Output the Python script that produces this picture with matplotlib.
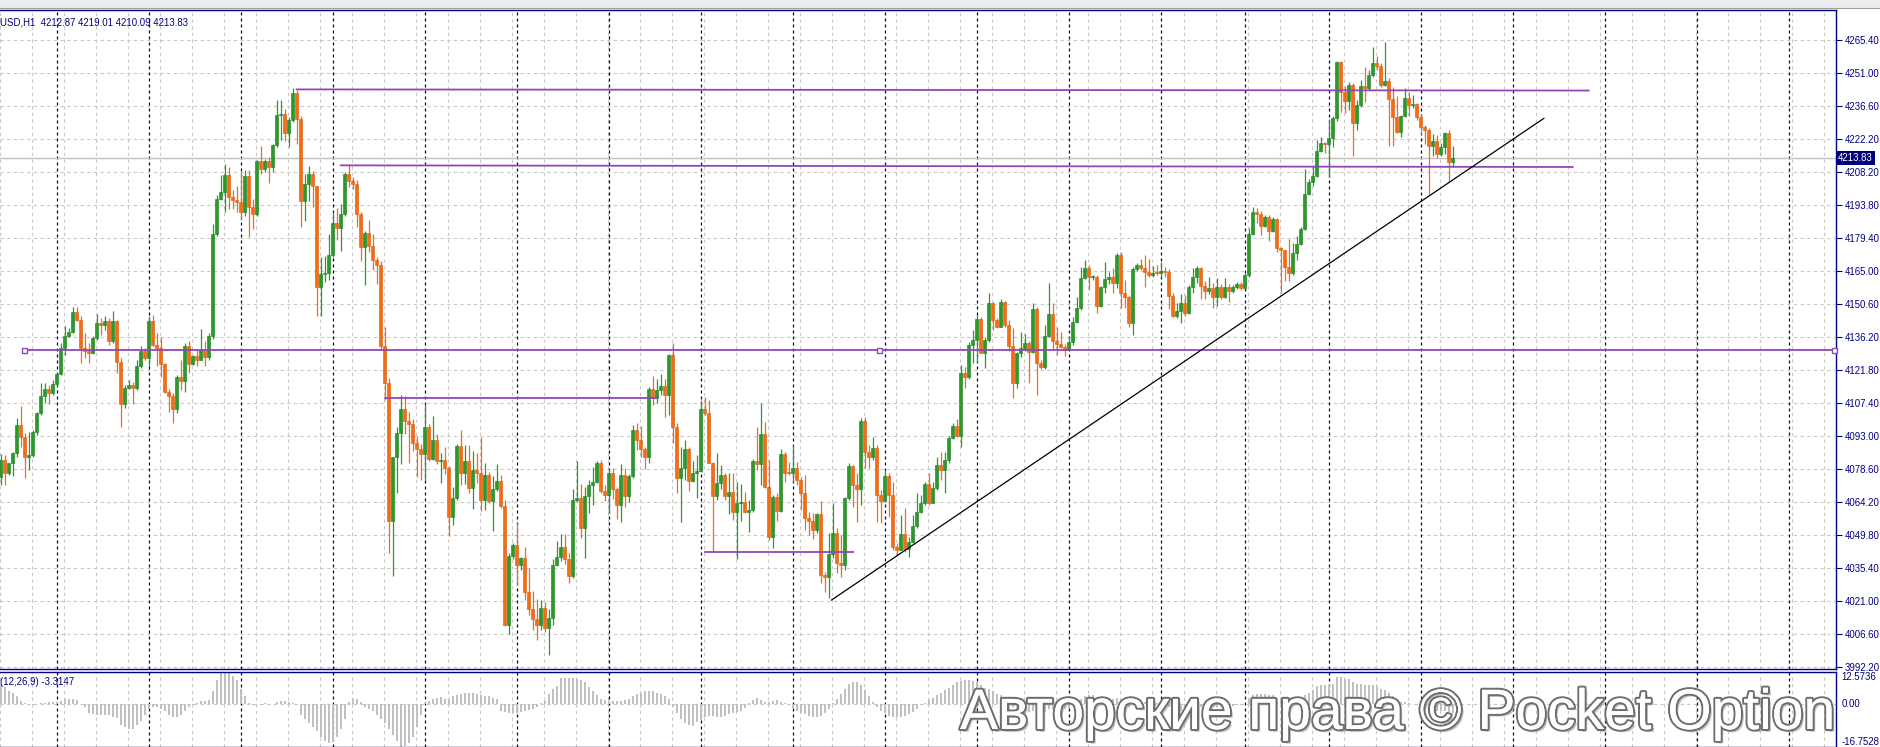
import numpy as np
import matplotlib
matplotlib.use("Agg")
import matplotlib.pyplot as plt
import matplotlib.patheffects as pe
from matplotlib.transforms import blended_transform_factory

# H1 candles, one per bar (open of each bar = close of the previous bar)
first_open = 4075.0
closes = [
    4082.2, 4076.4, 4080.8, 4085.1, 4097.5, 4092.1, 4083.4, 4084.4, 4094.6, 4102.6,
    4109.9, 4113.2, 4111.3, 4115.4, 4119.8, 4131.0, 4136.3, 4137.9, 4146.7, 4143.3,
    4131.0, 4129.5, 4128.8, 4135.3, 4141.9, 4141.1, 4143.0, 4133.9, 4143.0, 4125.1,
    4106.7, 4113.5, 4114.7, 4113.5, 4123.2, 4129.5, 4126.6, 4143.0, 4132.4, 4131.2,
    4124.1, 4111.7, 4110.2, 4104.3, 4118.6, 4116.8, 4131.7, 4124.1, 4127.6, 4125.9,
    4130.2, 4127.0, 4136.3, 4180.7, 4196.0, 4198.9, 4206.6, 4196.7, 4195.3, 4194.6,
    4190.2, 4205.8, 4192.4, 4189.2, 4212.7, 4209.1, 4212.7, 4209.8, 4219.3, 4232.4,
    4233.1, 4224.7, 4230.5, 4242.3, 4230.9, 4195.2, 4202.6, 4206.7, 4201.5, 4157.5,
    4163.2, 4163.7, 4171.4, 4185.4, 4183.4, 4189.5, 4206.7, 4203.8, 4202.6, 4189.5,
    4175.2, 4181.3, 4175.5, 4169.3, 4167.3, 4132.0, 4115.6, 4055.7, 4083.5, 4094.1,
    4104.6, 4099.2, 4098.0, 4089.8, 4086.9, 4084.9, 4096.4, 4082.7, 4090.9, 4081.6,
    4082.3, 4078.6, 4057.6, 4065.8, 4088.2, 4076.7, 4081.6, 4070.1, 4077.9, 4076.7,
    4064.7, 4075.7, 4064.2, 4069.6, 4072.9, 4062.2, 4010.5, 4040.5, 4045.0, 4036.3,
    4039.6, 4024.5, 4017.1, 4013.0, 4010.5, 4017.9, 4008.9, 4013.3, 4036.3, 4040.1,
    4044.1, 4039.2, 4031.8, 4064.7, 4065.5, 4052.4, 4066.6, 4071.3, 4072.8, 4080.8,
    4068.9, 4066.9, 4076.4, 4069.4, 4062.6, 4075.7, 4066.5, 4075.2, 4095.3, 4090.9,
    4086.9, 4083.4, 4113.0, 4109.1, 4112.7, 4114.5, 4110.5, 4128.0, 4096.4, 4074.2,
    4078.6, 4086.9, 4073.2, 4076.4, 4077.6, 4104.3, 4102.8, 4081.0, 4066.5, 4072.0,
    4075.7, 4066.5, 4068.4, 4059.7, 4063.3, 4064.1, 4059.7, 4060.4, 4081.9, 4080.5,
    4093.5, 4070.6, 4048.8, 4066.2, 4060.1, 4084.8, 4076.7, 4076.4, 4078.6, 4073.5,
    4068.0, 4056.8, 4055.8, 4051.7, 4058.7, 4032.1, 4031.4, 4041.3, 4050.3, 4037.2,
    4036.5, 4065.5, 4079.6, 4071.3, 4069.4, 4099.4, 4085.8, 4083.7, 4087.3, 4067.0,
    4064.5, 4075.2, 4067.0, 4044.5, 4043.0, 4050.0, 4043.3, 4046.6, 4053.5, 4059.7,
    4063.6, 4071.8, 4063.6, 4069.9, 4080.0, 4077.9, 4082.2, 4091.7, 4097.0, 4092.7,
    4120.3, 4118.2, 4132.3, 4134.5, 4143.5, 4129.0, 4134.5, 4150.8, 4143.2, 4140.3,
    4151.2, 4141.0, 4131.9, 4115.6, 4128.7, 4130.9, 4133.1, 4129.4, 4147.9, 4124.6,
    4122.6, 4136.2, 4145.8, 4134.2, 4132.8, 4131.6, 4130.1, 4133.5, 4142.5, 4148.3,
    4161.4, 4165.7, 4161.8, 4162.1, 4149.3, 4157.5, 4160.9, 4162.1, 4159.5, 4171.6,
    4154.8, 4153.1, 4142.1, 4165.3, 4167.2, 4165.7, 4164.3, 4162.8, 4163.8, 4163.5,
    4164.7, 4164.1, 4153.7, 4144.9, 4147.3, 4150.8, 4146.4, 4157.4, 4161.8, 4165.7,
    4158.0, 4156.0, 4157.0, 4153.4, 4157.4, 4153.1, 4157.7, 4156.0, 4157.7, 4158.9,
    4157.0, 4162.8, 4180.7, 4190.4, 4189.4, 4184.2, 4188.2, 4182.1, 4187.1, 4174.5,
    4173.7, 4166.2, 4163.6, 4172.3, 4176.3, 4182.7, 4198.1, 4203.5, 4206.1, 4217.0,
    4220.2, 4219.9, 4222.4, 4231.1, 4255.8, 4242.7, 4238.8, 4245.6, 4228.9, 4236.9,
    4245.2, 4244.2, 4250.0, 4255.3, 4253.9, 4245.6, 4247.5, 4239.4, 4231.8, 4225.3,
    4232.1, 4239.8, 4236.9, 4237.3, 4231.5, 4227.2, 4226.0, 4219.0, 4221.4, 4215.5,
    4218.7, 4224.8, 4212.2, 4213.83,
]
highs = [
    4084.8, 4084.4, 4081.0, 4085.9, 4100.4, 4105.8, 4093.8, 4094.6, 4095.3, 4103.3,
    4115.7, 4115.7, 4115.0, 4117.2, 4120.0, 4133.2, 4140.4, 4139.7, 4149.1, 4148.9,
    4144.8, 4137.5, 4133.1, 4136.1, 4145.9, 4144.1, 4144.8, 4144.1, 4147.0, 4143.3,
    4126.6, 4115.0, 4117.1, 4116.4, 4125.9, 4131.7, 4131.0, 4144.8, 4145.5, 4137.5,
    4135.8, 4124.4, 4113.1, 4111.3, 4119.3, 4125.6, 4133.4, 4133.9, 4128.0, 4130.7,
    4139.4, 4133.9, 4137.5, 4185.1, 4197.5, 4206.2, 4211.3, 4209.8, 4199.7, 4201.8,
    4207.7, 4208.4, 4208.4, 4196.0, 4213.0, 4218.9, 4213.5, 4214.2, 4220.0, 4238.9,
    4238.9, 4235.3, 4231.7, 4244.5, 4243.6, 4232.2, 4206.7, 4210.3, 4208.0, 4201.8,
    4170.6, 4171.0, 4180.8, 4190.3, 4192.0, 4193.6, 4207.5, 4211.3, 4205.4, 4204.3,
    4190.3, 4182.1, 4186.7, 4180.8, 4170.6, 4168.9, 4140.2, 4118.0, 4083.6, 4096.6,
    4110.7, 4109.9, 4103.3, 4100.0, 4092.6, 4089.3, 4106.5, 4098.0, 4101.6, 4093.4,
    4085.2, 4087.7, 4079.5, 4070.4, 4089.3, 4095.4, 4088.8, 4088.8, 4086.0, 4085.2,
    4092.1, 4081.1, 4077.0, 4075.4, 4080.3, 4075.7, 4064.7, 4041.7, 4046.1, 4054.8,
    4040.1, 4044.5, 4035.1, 4025.3, 4021.5, 4021.2, 4020.2, 4017.1, 4039.2, 4047.1,
    4049.9, 4049.9, 4041.7, 4069.6, 4081.6, 4071.7, 4070.4, 4073.5, 4079.3, 4081.9,
    4082.2, 4071.3, 4078.1, 4078.6, 4070.6, 4080.5, 4078.6, 4076.1, 4097.5, 4098.5,
    4097.0, 4088.0, 4113.9, 4118.8, 4117.3, 4119.7, 4117.3, 4128.4, 4133.0, 4098.5,
    4088.0, 4090.9, 4088.0, 4081.9, 4084.4, 4108.4, 4109.8, 4108.4, 4081.5, 4085.4,
    4080.0, 4076.7, 4076.4, 4076.7, 4072.8, 4071.8, 4068.4, 4064.8, 4082.5, 4096.4,
    4107.2, 4098.9, 4082.2, 4067.0, 4067.7, 4086.9, 4085.8, 4081.5, 4088.7, 4081.5,
    4074.9, 4075.7, 4059.7, 4059.0, 4059.0, 4064.5, 4033.6, 4050.3, 4063.3, 4052.4,
    4049.5, 4066.2, 4081.0, 4080.0, 4076.4, 4100.4, 4101.1, 4088.7, 4092.1, 4088.7,
    4069.1, 4077.9, 4076.4, 4072.8, 4045.9, 4058.2, 4061.2, 4048.8, 4058.2, 4068.0,
    4066.9, 4072.8, 4076.7, 4072.8, 4083.7, 4085.9, 4085.9, 4092.7, 4098.5, 4099.9,
    4123.6, 4122.6, 4133.8, 4138.9, 4145.4, 4144.4, 4135.9, 4155.1, 4151.2, 4143.9,
    4152.2, 4151.6, 4143.2, 4139.6, 4129.4, 4138.1, 4137.1, 4134.2, 4150.5, 4149.0,
    4125.8, 4141.0, 4159.5, 4150.5, 4140.3, 4138.1, 4132.8, 4136.2, 4144.7, 4153.4,
    4166.5, 4169.4, 4167.2, 4162.8, 4162.8, 4158.0, 4168.6, 4164.3, 4165.7, 4172.6,
    4173.0, 4160.6, 4154.1, 4166.2, 4168.2, 4169.6, 4171.5, 4169.6, 4166.7, 4167.2,
    4168.6, 4166.5, 4165.3, 4154.8, 4150.8, 4154.5, 4154.1, 4158.5, 4165.7, 4166.7,
    4166.2, 4160.3, 4161.8, 4159.5, 4161.4, 4158.9, 4161.4, 4158.9, 4158.5, 4159.9,
    4159.9, 4163.6, 4183.2, 4192.6, 4191.9, 4190.9, 4189.0, 4189.0, 4187.9, 4187.5,
    4174.9, 4169.4, 4178.4, 4176.6, 4179.8, 4183.9, 4208.9, 4204.5, 4210.3, 4221.7,
    4222.8, 4220.9, 4230.7, 4232.1, 4256.2, 4256.2, 4245.2, 4247.1, 4246.6, 4239.1,
    4247.8, 4253.6, 4252.2, 4262.3, 4258.3, 4255.1, 4264.5, 4248.5, 4244.9, 4240.8,
    4232.5, 4244.2, 4242.7, 4241.2, 4237.6, 4232.5, 4228.2, 4226.7, 4224.3, 4223.8,
    4220.2, 4225.3, 4226.0, 4219.01,
]
lows = [
    4071.3, 4071.3, 4075.7, 4075.4, 4083.7, 4088.0, 4074.2, 4077.8, 4083.7, 4093.1,
    4101.9, 4107.2, 4106.5, 4110.6, 4114.5, 4119.3, 4128.0, 4136.0, 4137.5, 4142.6,
    4124.4, 4126.6, 4124.4, 4128.5, 4134.6, 4136.8, 4139.0, 4132.4, 4133.4, 4120.0,
    4096.8, 4104.8, 4113.1, 4106.7, 4112.8, 4122.2, 4125.9, 4123.0, 4131.7, 4123.0,
    4118.6, 4111.3, 4103.3, 4098.5, 4102.6, 4112.8, 4112.0, 4120.0, 4123.7, 4123.0,
    4125.9, 4123.0, 4125.9, 4135.0, 4180.0, 4195.3, 4190.2, 4191.7, 4191.7, 4190.2,
    4186.6, 4188.7, 4179.3, 4182.9, 4188.7, 4206.9, 4207.7, 4202.9, 4207.7, 4218.6,
    4221.5, 4221.2, 4218.6, 4229.5, 4220.0, 4183.7, 4186.2, 4195.2, 4192.3, 4145.1,
    4145.1, 4159.9, 4160.7, 4170.6, 4178.0, 4173.5, 4188.7, 4201.0, 4200.2, 4183.7,
    4169.0, 4158.3, 4173.0, 4164.9, 4159.1, 4130.4, 4108.2, 4041.7, 4031.8, 4068.0,
    4080.3, 4093.4, 4080.7, 4086.0, 4075.0, 4073.4, 4073.7, 4081.9, 4082.3, 4080.3,
    4072.1, 4076.2, 4049.1, 4054.0, 4064.7, 4071.3, 4071.7, 4068.0, 4060.9, 4072.4,
    4060.2, 4060.6, 4063.5, 4051.5, 4068.8, 4061.4, 4010.0, 4006.4, 4039.2, 4027.7,
    4034.3, 4021.2, 4014.6, 4008.0, 4003.9, 4008.0, 4007.2, 3997.4, 4010.5, 4035.9,
    4038.4, 4036.8, 4028.6, 4031.0, 4063.9, 4048.3, 4039.6, 4059.0, 4062.6, 4072.0,
    4067.7, 4064.5, 4059.0, 4065.1, 4056.4, 4055.3, 4061.9, 4064.1, 4074.2, 4086.6,
    4083.4, 4078.2, 4080.8, 4106.2, 4106.9, 4110.5, 4100.8, 4101.8, 4089.8, 4067.7,
    4055.3, 4073.5, 4068.9, 4072.8, 4065.5, 4077.1, 4101.8, 4080.8, 4042.3, 4064.8,
    4069.4, 4064.8, 4058.7, 4056.1, 4038.9, 4055.8, 4059.0, 4051.0, 4059.7, 4077.9,
    4071.3, 4069.9, 4047.4, 4043.7, 4055.8, 4059.7, 4072.8, 4075.7, 4072.8, 4071.3,
    4060.4, 4051.7, 4049.5, 4047.6, 4050.3, 4028.8, 4024.8, 4021.9, 4039.4, 4032.8,
    4031.4, 4034.3, 4064.8, 4061.9, 4055.3, 4062.6, 4078.6, 4078.6, 4082.2, 4055.3,
    4054.6, 4064.1, 4057.5, 4043.0, 4040.8, 4043.0, 4042.3, 4039.8, 4045.9, 4052.4,
    4059.3, 4062.6, 4062.6, 4063.3, 4069.1, 4073.5, 4068.0, 4080.8, 4091.2, 4092.4,
    4088.0, 4113.4, 4117.4, 4124.3, 4124.6, 4128.7, 4122.2, 4133.8, 4138.9, 4139.6,
    4140.0, 4140.3, 4129.9, 4109.1, 4113.4, 4127.2, 4129.9, 4115.9, 4128.7, 4110.5,
    4121.7, 4121.7, 4135.7, 4130.1, 4128.0, 4130.9, 4127.5, 4130.1, 4132.3, 4141.8,
    4147.6, 4160.9, 4156.3, 4160.6, 4146.4, 4149.0, 4154.8, 4158.9, 4155.1, 4157.0,
    4148.3, 4148.3, 4140.3, 4136.7, 4164.7, 4165.0, 4157.7, 4162.1, 4162.1, 4162.8,
    4162.1, 4162.1, 4147.9, 4144.4, 4143.9, 4142.1, 4145.0, 4145.8, 4154.8, 4159.5,
    4152.2, 4152.2, 4154.5, 4148.3, 4149.3, 4152.2, 4152.7, 4151.2, 4154.8, 4156.6,
    4156.3, 4157.5, 4162.1, 4180.2, 4185.6, 4180.2, 4183.6, 4177.8, 4181.7, 4173.0,
    4154.8, 4160.4, 4160.4, 4162.8, 4169.4, 4175.9, 4182.4, 4197.7, 4201.6, 4205.7,
    4216.6, 4216.1, 4205.7, 4218.7, 4230.1, 4234.0, 4233.6, 4234.7, 4214.7, 4226.0,
    4236.2, 4238.4, 4243.4, 4249.2, 4252.2, 4244.9, 4245.2, 4219.0, 4219.0, 4224.6,
    4223.1, 4231.5, 4232.1, 4235.4, 4230.4, 4224.3, 4219.9, 4198.1, 4214.7, 4213.7,
    4214.7, 4215.5, 4203.5, 4210.09,
]
# MACD(12,26,9) histogram, one value per bar
macd = [
    7.7, 6.9, 5.3, 4.5, 3.0, 1.4, 0.3, -0.2, -0.3, 0.0,
    0.3, 0.5, 0.7, 0.9, 1.0, 1.4, 1.9, 2.0, 2.1, 1.5,
    0.2, -1.0, -3.3, -3.8, -4.1, -4.1, -4.1, -4.4, -4.9, -5.4,
    -8.1, -8.9, -9.7, -9.7, -8.1, -6.5, -4.1, -1.8, -1.0, -1.3,
    -1.8, -2.6, -4.1, -4.9, -4.9, -4.1, -2.6, -1.0, -0.2, 0.6,
    1.1, 1.4, 1.7, 5.3, 9.3, 12.0, 12.57, 12.2, 11.0, 9.5,
    6.0, 3.0, 0.5, -0.3, 0.0, -0.2, 0.3, 0.0, 0.2, 0.8,
    1.4, 1.3, 1.0, 0.5, -0.2, -4.1, -5.7, -7.3, -8.9, -10.4,
    -12.8, -14.4, -15.2, -14.9, -12.8, -9.7, -5.7, 0.9, 2.2, 1.9,
    0.9, -1.0, -1.8, -2.6, -4.1, -5.7, -7.3, -9.7, -12.0, -14.4,
    -16.75, -16.2, -15.0, -12.8, -8.9, -4.1, 0.6, 1.4, 2.2, 2.5,
    2.7, 2.2, 1.9, 3.0, 3.5, 4.1, 4.5, 4.5, 4.2, 3.8,
    3.5, 3.0, 3.0, 2.5, 2.2, -2.6, -2.9, -3.3, -3.4, -3.3,
    -2.9, -2.6, -2.2, -1.8, -1.0, 0.5, 1.4, 3.8, 6.1, 7.2,
    10.1, 10.4, 10.1, 10.1, 9.8, 9.3, 8.5, 6.9, 5.3, 3.5,
    2.0, 1.5, 1.4, 1.4, 1.4, 1.4, 1.5, 2.0, 3.0, 3.8,
    4.5, 5.3, 5.3, 5.0, 4.5, 3.8, 3.0, 2.2, -1.0, -3.3,
    -5.7, -7.3, -8.1, -8.5, -7.0, -6.0, -5.0, -4.5, -4.5, -5.0,
    -5.0, -4.5, -4.0, -3.5, -3.0, -2.5, -1.5, 0.5, 1.5, 2.5,
    1.5, 0.8, 1.0, 1.2, 1.5, 1.0, 0.5, -0.5, -1.5, -2.5,
    -3.5, -4.0, -4.5, -5.0, -5.0, -4.5, -3.5, -2.0, 0.5, 2.0,
    4.0, 6.0, 8.0, 8.8, 8.5, 7.5, 5.5, 3.0, 1.0, -1.0,
    -2.5, -3.5, -4.5, -5.0, -5.2, -5.0, -4.5, -3.8, -3.0, -2.0,
    -0.5, 0.5, 1.5, 2.5, 3.5, 4.5, 5.5, 6.5, 7.5, 8.5,
    9.0, 9.5, 9.5, 9.0, 8.5, 7.5, 6.5, 6.0, 5.0, 4.0,
    3.5, 2.5, 1.0, -1.0, -2.0, -2.5, -2.5, -3.0, -2.5, -3.0,
    -3.5, -3.0, -2.0, -2.0, -2.0, -2.0, -2.0, -1.5, -0.5, 0.5,
    2.0, 3.0, 3.5, 3.5, 2.5, 2.5, 2.5, 2.5, 2.0, 2.5,
    1.0, 0.0, -1.0, 0.5, 1.0, 1.0, 1.0, 0.5, 0.5, 0.3,
    0.2, 0.0, -1.0, -2.0, -2.5, -2.5, -2.5, -2.0, -1.5, -1.0,
    -1.0, -1.0, -1.0, -1.0, -1.0, -1.0, -0.8, -0.8, -0.6, -0.5,
    -0.5, 0.0, 2.0, 3.5, 4.0, 4.0, 4.0, 3.5, 3.5, 2.5,
    1.5, 0.5, 0.0, 0.5, 1.0, 1.5, 3.5, 4.5, 5.5, 7.0,
    7.5, 7.5, 7.5, 8.0, 10.5, 10.5, 10.0, 10.0, 8.5, 8.0,
    8.0, 7.5, 7.5, 7.5, 7.0, 6.0, 5.5, 4.5, 3.0, 1.5,
    1.0, 1.0, 0.5, 0.0, -0.5, -1.0, -1.5, -2.0, -2.2, -2.8,
    -2.8, -2.5, -3.2, -3.3147,
]

price_ticks = [3992.20, 4006.60, 4021.00, 4035.40, 4049.80, 4064.20, 4078.60,
               4093.00, 4107.40, 4121.80, 4136.20, 4150.60, 4165.00, 4179.40,
               4193.80, 4208.20, 4222.20, 4236.60, 4251.00, 4265.40]
day_starts = [14, 37, 60, 83, 106, 129, 152, 175, 198, 221, 244, 267, 290,
              311, 332, 355, 378, 401, 424, 447]
last_price = 4213.83
macd_max, macd_min = 12.5736, -16.7528

# drawn objects: (bar, price) end points
level_lines = [
    ((74, 4243.7), (397, 4243.2)),
    ((85, 4210.6), (393, 4209.9)),
    ((96, 4109.4), (164, 4109.4)),
    ((176, 4042.0), (213, 4042.0)),
]
hline_price = 4130.3
hline_marks = [5.9, 219.6, 458.3]
trend = ((207.7, 4021.2), (385.8, 4231.1))

NAVY = "#000080"
GRID = "#c8c8c8"
UP = "#2a9a2a"
DOWN = "#f56c12"
PURPLE = "#9445b4"

W, H = 1881, 747
fig = plt.figure(figsize=(W / 100, H / 100), dpi=100)
fig.patch.set_facecolor("white")

# pixel layout of the MT4 window
x_right = 1836
main_top, main_bot = 10, 669
sub_top = 672
ax = fig.add_axes([0, 1 - main_bot / H, x_right / W, (main_bot - main_top) / H])
ax2 = fig.add_axes([0, 0, x_right / W, (H - sub_top) / H])

# bar i sits at pixel 0.7 + 4 i
xlim = (-0.175, (x_right - 0.7) / 4)
n = len(closes)
idx = np.arange(n)
opens = np.array([first_open] + closes[:-1])
closes_a = np.array(closes)
highs_a = np.array(highs)
lows_a = np.array(lows)

tick_pos = np.linspace(price_ticks[0], price_ticks[-1], len(price_ticks))
ppx = (tick_pos[1] - tick_pos[0]) / 33.0
y_top = tick_pos[-1] + (39.6 - main_top) * ppx
y_bot = tick_pos[0] - (main_bot - 666.6) * ppx

for a in (ax, ax2):
    a.set_xlim(*xlim)
    a.set_xticks([])
    a.set_facecolor("white")
    a.spines["left"].set_visible(False)
    for s in ("top", "right", "bottom"):
        a.spines[s].set_color(NAVY)
        a.spines[s].set_linewidth(1.0)
    # grey grid every 32 px and day separators
    for k in range(0, 58):
        a.axvline((32 * k - 0.7) / 4, color=GRID, lw=0.8, ls=(0, (3, 3)), zorder=0)
    for d in day_starts:
        a.axvline(d, color="#00006a", lw=0.9, ls=(0, (2.4, 2.4)), zorder=1)

ax.set_ylim(y_bot, y_top)
for p in tick_pos:
    ax.axhline(p, color=GRID, lw=0.8, ls=(0, (3, 3)), zorder=0)
ax.yaxis.tick_right()
ax.set_yticks(tick_pos)
ax.set_yticklabels([f"{v:.2f}" for v in price_ticks])
ax.tick_params(axis="y", direction="out", length=4, width=0.8, color=NAVY,
               labelcolor=NAVY, labelsize=6.9, pad=2)
for lab in ax.get_yticklabels():
    lab.set_family("Liberation Sans")

# bid line
ax.axhline(last_price, color="#c0c0c0", lw=1.0, zorder=1)

# candles
up = closes_a >= opens
colors = np.where(up, UP, DOWN)
hi = np.maximum(highs_a, np.maximum(opens, closes_a))
lo = np.minimum(lows_a, np.minimum(opens, closes_a))
ax.vlines(idx, lo, hi, colors=colors, lw=0.9, zorder=3)
body_lo = np.minimum(opens, closes_a)
body_h = np.maximum(np.abs(closes_a - opens), 0.45)
ax.bar(idx, body_h, bottom=body_lo, width=0.62, color=colors,
       edgecolor=np.where(up, "#1d7a1d", "#d95a08"), linewidth=0.4, zorder=4)

# drawn levels and trend line
for (x0, p0), (x1, p1) in level_lines:
    ax.plot([x0, x1], [p0, p1], color=PURPLE, lw=1.3, zorder=5)
ax.plot([hline_marks[0], hline_marks[-1]], [hline_price, hline_price], color=PURPLE,
        lw=1.3, zorder=5, clip_on=False)
ax.plot(hline_marks, [hline_price] * len(hline_marks), ls="none", marker="s",
        ms=3.6, mfc="white", mec=PURPLE, mew=1.0, zorder=6, clip_on=False)
ax.plot([trend[0][0], trend[1][0]], [trend[0][1], trend[1][1]], color="black",
        lw=0.9, zorder=5)

# current price box on the axis
tr = blended_transform_factory(ax.transAxes, ax.transData)
ax.text(1.0012, last_price, f"{last_price:.2f}", transform=tr, ha="left",
        va="center", color="white", fontsize=6.9, family="Liberation Sans",
        bbox=dict(facecolor=NAVY, edgecolor="none", pad=1.6), zorder=10,
        clip_on=False)

ax.text(0.0, 0.988, "USD,H1  4212.87 4219.01 4210.09 4213.83", transform=ax.transAxes,
        ha="left", va="top", color=NAVY, fontsize=6.9, family="Liberation Sans")

# MACD panel
ax2.set_ylim(macd_min, macd_max)
ax2.set_yticks([])
ax2.axhline(0, color=GRID, lw=0.8, ls=(0, (3, 3)), zorder=0)
ax2.bar(idx, macd, width=0.5, color="#c0c0c0", zorder=2)
ax2.text(0.0, 0.93, "(12,26,9) -3.3147", transform=ax2.transAxes, ha="left",
         va="top", color=NAVY, fontsize=6.9, family="Liberation Sans")
for val, txt, va in ((macd_max, "12.5736", "top"), (0.0, "0.00", "center"),
                     (macd_min, "-16.7528", "bottom")):
    ax2.text(1.003, val, txt, transform=blended_transform_factory(ax2.transAxes, ax2.transData),
             ha="left", va=va, color=NAVY, fontsize=6.9, family="Liberation Sans",
             clip_on=False)

# window chrome at the top
fig.patches.append(plt.Rectangle((0, 1 - 8 / H), 1, 8 / H, transform=fig.transFigure,
                                 facecolor="#ececec", edgecolor="none", zorder=-1))
fig.add_artist(plt.Line2D([0, 1], [1 - 8 / H, 1 - 8 / H], transform=fig.transFigure,
                          color="#a0a0a0", lw=0.8))

# watermark
fig.text(960 / W, 1 - 729 / H, "Авторские права © Pocket Option", ha="left",
         va="baseline", fontsize=41, family="Liberation Sans", color="white",
         zorder=20,
         path_effects=[pe.withSimplePatchShadow(offset=(2, -2), shadow_rgbFace="#9a9a9a", alpha=0.6),
                       pe.withStroke(linewidth=3.0, foreground="#6e6e6e"),
                       pe.Normal()])

fig.savefig("out.png", dpi=100, facecolor="white")
